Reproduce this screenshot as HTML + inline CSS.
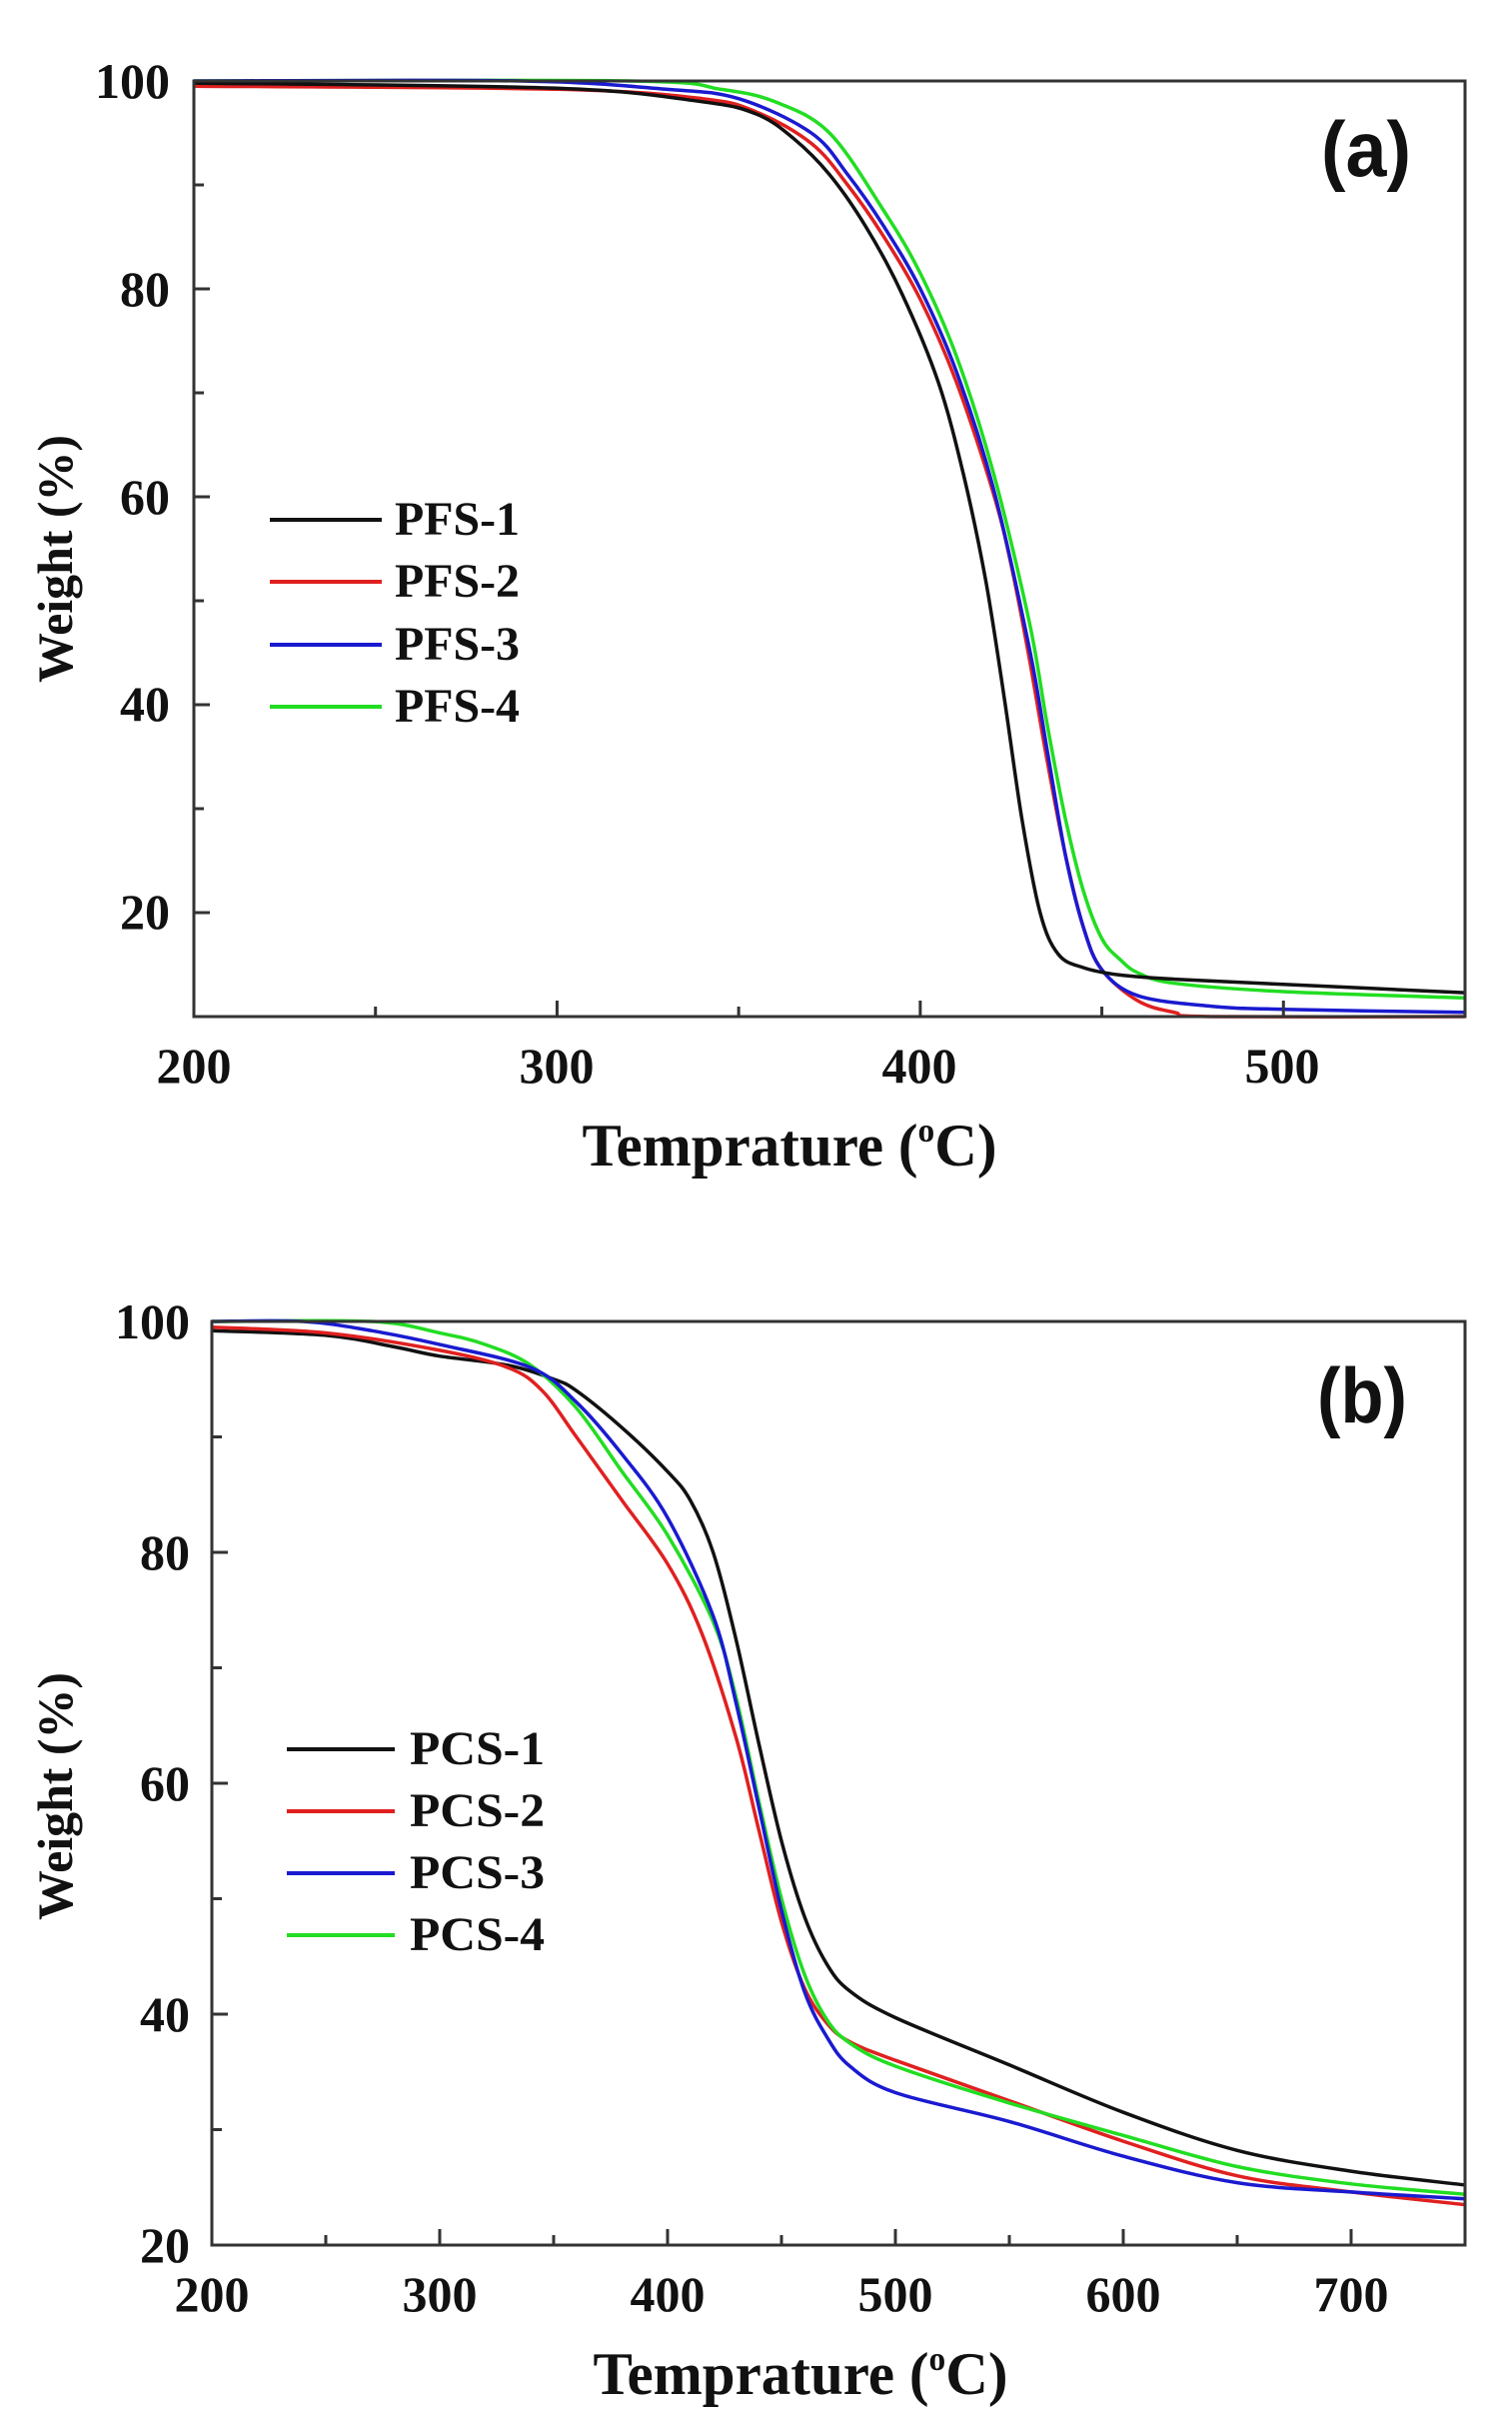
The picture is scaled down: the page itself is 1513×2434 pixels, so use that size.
<!DOCTYPE html>
<html><head><meta charset="utf-8"><style>
html,body{margin:0;padding:0;background:#fff;}
svg{display:block;}
text{font-family:"Liberation Serif",serif;font-weight:bold;fill:#111;}
.s{font-family:"Liberation Sans",sans-serif;}
</style></head><body>
<svg id="g" width="1513" height="2434" viewBox="0 0 1513 2434" xmlns="http://www.w3.org/2000/svg">
<rect width="1513" height="2434" fill="#fff"/>
<g id="A"></g>
<g id="B"></g>
<!-- top plot labels -->
<g font-size="50" text-anchor="end">
<text x="170" y="98">100</text>
<text x="170" y="306">80</text>
<text x="170" y="514">60</text>
<text x="170" y="721">40</text>
<text x="170" y="929">20</text>
</g>
<g font-size="50" text-anchor="middle">
<text x="194" y="1083">200</text>
<text x="557" y="1083">300</text>
<text x="920" y="1083">400</text>
<text x="1283" y="1083">500</text>
</g>
<text x="790" y="1166" font-size="60" text-anchor="middle" textLength="415" lengthAdjust="spacingAndGlyphs">Temprature (<tspan font-size="34" dy="-24">o</tspan><tspan dy="24">C)</tspan></text>
<text transform="translate(72,559) rotate(-90)" font-size="50" text-anchor="middle" textLength="248" lengthAdjust="spacingAndGlyphs">Weight (%)</text>
<text class="s" x="1322" y="176" font-size="78" textLength="90" lengthAdjust="spacingAndGlyphs">(a)</text>
<g stroke-width="4">
<line x1="270" y1="520" x2="382" y2="520" stroke="#111"/>
<line x1="270" y1="582" x2="382" y2="582" stroke="#e02020"/>
<line x1="270" y1="645" x2="382" y2="645" stroke="#1a1ad0"/>
<line x1="270" y1="707" x2="382" y2="707" stroke="#22dd22"/>
</g>
<g font-size="48">
<text x="395" y="535" textLength="125" lengthAdjust="spacingAndGlyphs">PFS-1</text>
<text x="395" y="597" textLength="125" lengthAdjust="spacingAndGlyphs">PFS-2</text>
<text x="395" y="660" textLength="125" lengthAdjust="spacingAndGlyphs">PFS-3</text>
<text x="395" y="722" textLength="125" lengthAdjust="spacingAndGlyphs">PFS-4</text>
</g>
<!-- bottom plot labels -->
<g font-size="50" text-anchor="end">
<text x="190" y="1339">100</text>
<text x="190" y="1570">80</text>
<text x="190" y="1801">60</text>
<text x="190" y="2032">40</text>
<text x="190" y="2263">20</text>
</g>
<g font-size="50" text-anchor="middle">
<text x="212" y="2312">200</text>
<text x="440" y="2312">300</text>
<text x="668" y="2312">400</text>
<text x="896" y="2312">500</text>
<text x="1124" y="2312">600</text>
<text x="1352" y="2312">700</text>
</g>
<text x="801" y="2395" font-size="60" text-anchor="middle" textLength="415" lengthAdjust="spacingAndGlyphs">Temprature (<tspan font-size="34" dy="-24">o</tspan><tspan dy="24">C)</tspan></text>
<text transform="translate(72,1797) rotate(-90)" font-size="50" text-anchor="middle" textLength="248" lengthAdjust="spacingAndGlyphs">Weight (%)</text>
<text class="s" x="1318" y="1423" font-size="78" textLength="90" lengthAdjust="spacingAndGlyphs">(b)</text>
<g stroke-width="4">
<line x1="287" y1="1750" x2="395" y2="1750" stroke="#111"/>
<line x1="287" y1="1812" x2="395" y2="1812" stroke="#e02020"/>
<line x1="287" y1="1874" x2="395" y2="1874" stroke="#1a1ad0"/>
<line x1="287" y1="1936" x2="395" y2="1936" stroke="#22dd22"/>
</g>
<g font-size="48">
<text x="410" y="1765" textLength="135" lengthAdjust="spacingAndGlyphs">PCS-1</text>
<text x="410" y="1827" textLength="135" lengthAdjust="spacingAndGlyphs">PCS-2</text>
<text x="410" y="1889" textLength="135" lengthAdjust="spacingAndGlyphs">PCS-3</text>
<text x="410" y="1951" textLength="135" lengthAdjust="spacingAndGlyphs">PCS-4</text>
</g>
</svg>
<script>
(function(){
var NS="http://www.w3.org/2000/svg";
function el(p,n,a){var e=document.createElementNS(NS,n);for(var k in a)e.setAttribute(k,a[k]);p.appendChild(e);return e;}
function plot(g,ax,series){
  var X=function(t){return ax.x0+(t-ax.t0)/(ax.t1-ax.t0)*(ax.x1-ax.x0);};
  var Y=function(w){return ax.y1-(w-ax.w0)/(ax.w1-ax.w0)*(ax.y1-ax.y0);};
  // curves: monotone cubic via catmull-rom
  series.forEach(function(s){
    var p=s.d.map(function(q){return [X(q[0]),Y(q[1])];});
    var d="M"+p[0][0].toFixed(1)+","+p[0][1].toFixed(1);
    for(var i=0;i<p.length-1;i++){
      var a=p[i-1]||p[i],b=p[i],c=p[i+1],e=p[i+2]||c;
      var c1=[b[0]+(c[0]-a[0])/6,b[1]+(c[1]-a[1])/6],c2=[c[0]-(e[0]-b[0])/6,c[1]-(e[1]-b[1])/6];
      d+="C"+c1[0].toFixed(1)+","+c1[1].toFixed(1)+" "+c2[0].toFixed(1)+","+c2[1].toFixed(1)+" "+c[0].toFixed(1)+","+c[1].toFixed(1);
    }
    el(g,"path",{d:d,fill:"none",stroke:s.c,"stroke-width":3.5,"stroke-linejoin":"round"});
  });
  // frame
  el(g,"rect",{x:ax.x0,y:ax.y0,width:ax.x1-ax.x0,height:ax.y1-ax.y0,fill:"none",stroke:"#333","stroke-width":3});
  // ticks
  for(var t=ax.t0;t<=ax.t1;t+=50){var x=X(t);var L=(t%100==0)?16:10;el(g,"line",{x1:x,y1:ax.y1,x2:x,y2:ax.y1-L,stroke:"#333","stroke-width":3});}
  for(var w=ax.w0;w<=ax.w1;w+=10){var y=Y(w);var L=(w%20==0)?16:10;el(g,"line",{x1:ax.x0,y1:y,x2:ax.x0+L,y2:y,stroke:"#333","stroke-width":3});}
}
var K="#111",R="#e02020",Bl="#1a1ad0",G="#22dd22";
plot(document.getElementById("A"),{x0:194,x1:1466,y0:81,y1:1017,t0:200,t1:550,w0:10,w1:100},[
 {c:G,d:[[200,100],[320,100],[345,99.2],[360,98],[375,95],[390,87.5],[400,81.5],[410,73.5],[420,62.5],[430,48],[435,38],[440,29],[445,22],[450,17.5],[455,15.5],[460,14.2],[470,13.2],[500,12.4],[550,11.8]]},
 {c:R,d:[[200,99.5],[300,99.2],[340,98.3],[355,97],[370,94],[380,90],[390,85],[400,79],[410,71],[420,60.5],[425,53.5],[430,44.5],[435,34.5],[440,25.5],[445,18.5],[450,14.5],[460,11.5],[470,10.4],[480,10],[550,10]]},
 {c:Bl,d:[[200,100],[290,100],[330,99.2],[350,98.3],[370,95],[380,91],[390,86],[400,80],[410,72],[420,61],[430,45.5],[435,35.5],[440,25.5],[445,18.5],[450,14.5],[460,12],[480,11],[500,10.7],[550,10.4]]},
 {c:K,d:[[200,99.8],[300,99.3],[340,98],[355,96.8],[365,94.5],[375,91],[385,86],[395,79.5],[405,71],[412,62],[418,52],[423,41],[428,29],[433,20],[438,16],[445,14.7],[455,14],[470,13.6],[500,13.1],[550,12.3]]}
]);
plot(document.getElementById("B"),{x0:212,x1:1466,y0:1322,y1:2246,t0:200,t1:750,w0:20,w1:100},[
 {c:K,d:[[200,99.2],[250,98.8],[280,97.8],[300,97],[330,96.2],[350,95],[360,94],[380,90.8],[400,87],[410,84.5],[420,80],[430,72.5],[440,63.5],[450,55],[460,48.5],[470,44.3],[480,42],[500,39.7],[550,35.6],[600,31.5],[650,28.2],[700,26.4],[750,25.2]]},
 {c:R,d:[[200,99.5],[250,99],[300,97.5],[330,96],[345,94],[360,90],[380,84.5],[400,79],[415,73],[430,64],[440,56],[450,48],[460,42.3],[470,39.2],[480,37.6],[500,36],[550,32.5],[600,29],[650,26],[700,24.6],[750,23.5]]},
 {c:G,d:[[200,100],[270,100],[300,99],[320,98],[340,96.2],[360,92.5],[380,87],[400,81.5],[420,74],[430,67.5],[440,58.5],[450,50],[460,43.5],[470,39.5],[480,37.5],[500,35.5],[550,32.3],[600,29.5],[650,26.8],[700,25.3],[750,24.4]]},
 {c:Bl,d:[[200,100],[240,100],[270,99.2],[300,98],[340,96],[360,93],[380,88.5],[400,83],[420,74.5],[430,67],[440,58],[450,49],[460,42],[470,38],[480,35.5],[500,33.2],[550,30.7],[600,27.7],[650,25.4],[700,24.6],[750,24]]}
]);
})();
</script>
</body></html>
